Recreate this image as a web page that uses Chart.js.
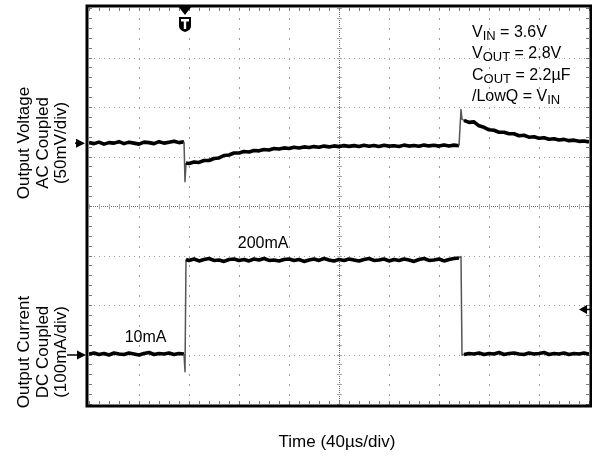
<!DOCTYPE html>
<html>
<head>
<meta charset="utf-8">
<script src="https://cdn.jsdelivr.net/npm/chart.js@4.4.1/dist/chart.umd.min.js"></script>
<style>
  html, body { margin: 0; padding: 0; background: #ffffff; }
  #wrap { width: 592px; height: 457px; position: relative; }
</style>
</head>
<body>
<div id="wrap"><canvas id="c" width="592" height="457"></canvas></div>
<script>
// ---------------- DATA ----------------
// sample times in microseconds (40 us/div, 10 divisions)
const timeUs = [
  0,4,8,12,16,20,24,28,32,36,40,44,48,52,56,60,64,68,72,76,
  76.8,77.6,
  80,84,88,92,96,100,104,108,112,116,120,124,128,132,136,140,144,148,152,156,
  160,164,168,172,176,180,184,188,192,196,200,204,208,212,216,220,224,228,232,236,
  240,244,248,252,256,260,264,268,272,276,280,284,288,292,296,
  297.6,298.4,
  300,304,308,312,316,320,324,328,332,336,340,344,348,352,356,360,364,368,372,376,
  380,384,388,392,396,400
];
// output voltage, AC coupled, in mV (50 mV/div)
const outputVoltageMv = [
  0.5,-0.5,1,-1,0.5,0,1.5,-0.5,1,0,-1,1,0.5,-0.5,1.5,0,1,2,0.5,1.5,
  -39,-20,
  -20.5,-19,-19.5,-17.5,-17.5,-15.5,-15,-12.5,-12,-10,
  -10,-8.5,-9,-7.5,-7.8,-6.5,-7,-5.5,-6,-4.8,
  -5.5,-4.2,-5,-3.8,-4.5,-3.5,-4.2,-3,-3.8,-2.8,
  -3.5,-2.5,-3.3,-2.5,-3.5,-2.2,-3.2,-2.4,-3.4,-2.2,
  -3,-2.6,-3.4,-2,-3,-2.4,-3.2,-2,-2.8,-2.2,
  -3,-1.8,-2.8,-2,-2.6,
  34,24,
  23,21,21.5,17.5,16,13.5,13,11,11,9.5,
  9.5,7.5,8,6,6.5,5,5.5,4,4.5,3.2,
  3.8,2.5,3,1.8,2.2,1.2
];
// output current, DC coupled, in mA (100 mA/div)
const outputCurrentMa = [
  10,12,9,11,8,12,10,9,12,10,8,11,13,9,11,10,12,9,11,10,
  -26,201,
  199,202,198,201,203,199,200,197,201,202,
  199,201,198,202,200,203,199,200,198,201,
  202,199,201,197,200,202,199,203,200,198,
  201,199,202,200,198,201,203,199,200,202,
  198,201,199,202,200,197,201,203,199,200,
  202,198,201,203,204,
  207,8,
  9,11,10,12,9,11,10,13,9,11,
  12,10,9,12,10,11,13,9,11,10,
  12,9,11,10,12,10
];
// graticule
const timeDivTicksUs = [0,40,80,120,160,200,240,280,320,360,400];
const verticalDivs = [-4,-3,-2,-1,0,1,2,3,4];
// scope channel settings
const voltScaleMvPerDiv = 50;
const currScaleMaPerDiv = 100;
const voltPositionDiv = 1.27;
const currPositionDiv = -3.09;
const voltMarkerMv = 0;
const currMarkerMa = 8;
const triggerTimeUs = 76.8;
const triggerLevelMa = 100;
// texts
const voltAxisLabel = ['Output Voltage', 'AC Coupled', '(50mV/div)'];
const currAxisLabel = ['Output Current', 'DC Coupled', '(100mA/div)'];
const timeAxisLabel = 'Time (40µs/div)';
const conditionLines = [
  [['V',0],['IN',1],[' = 3.6V',0]],
  [['V',0],['OUT',1],[' = 2.8V',0]],
  [['C',0],['OUT',1],[' = 2.2µF',0]],
  [['/LowQ = V',0],['IN',1]]
];
const levelLabels = [
  { text: '200mA', t: 119, ma: 225 },
  { text: '10mA',  t: 28.5, ma: 34 }
];

// ---------------- CHART ----------------
const FONT = '"Liberation Sans", Arial, Helvetica, sans-serif';
const voltPts = timeUs.map((t, i) => ({ x: t, y: voltPositionDiv + outputVoltageMv[i] / voltScaleMvPerDiv }));
const currPts = timeUs.map((t, i) => ({ x: t, y: currPositionDiv + outputCurrentMa[i] / currScaleMaPerDiv }));

const edgeSeg = {
  borderWidth: c => (c.p1.parsed.x - c.p0.parsed.x < 2 ? 1.5 : 3.6),
  borderColor: c => (c.p1.parsed.x - c.p0.parsed.x < 2 ? '#555' : '#000')
};

const scopePlugin = {
  id: 'scope',
  beforeDatasetsDraw(chart) {
    const { ctx, chartArea: a, scales: { x, y } } = chart;
    const X = v => Math.round(x.getPixelForValue(v));
    const Y = v => Math.round(y.getPixelForValue(v));
    const t0 = timeDivTicksUs[0], t1 = timeDivTicksUs[timeDivTicksUs.length - 1];
    const tc = (t0 + t1) / 2;
    const d0 = verticalDivs[0], d1 = verticalDivs[verticalDivs.length - 1];
    const minorT = (timeDivTicksUs[1] - timeDivTicksUs[0]) / 5;
    ctx.save();
    // major vertical lines
    ctx.fillStyle = '#9c9c9c';
    timeDivTicksUs.forEach(t => {
      if (t === t0 || t === t1 || t === tc) return;
      const px = X(t);
      for (let k = d0 * 5; k <= d1 * 5; k++) ctx.fillRect(px, Y(k / 5), 1, 2);
    });
    // major horizontal lines
    verticalDivs.forEach(d => {
      if (d === d0 || d === d1 || d === 0) return;
      const py = Y(d);
      for (let t = t0; t <= t1; t += minorT / 2) ctx.fillRect(X(t), py, 1, 1);
    });
    // centre lines (dense dots + minor ticks)
    const cy = Y(0), cx = X(tc);
    ctx.fillStyle = '#6a6a6a';
    for (let px = a.left; px < a.right; px += 2) ctx.fillRect(px, cy, 1, 1);
    for (let py = a.top; py < a.bottom; py += 2) ctx.fillRect(cx, py, 1, 1);
    ctx.fillStyle = '#a8a8a8';
    for (let t = t0; t <= t1; t += minorT) ctx.fillRect(X(t), cy - 2, 1, 5);
    for (let k = d0 * 5; k <= d1 * 5; k++) ctx.fillRect(cx - 2, Y(k / 5), 5, 1);
    // edge ticks
    ctx.fillStyle = '#777';
    for (let t = t0; t <= t1; t += minorT) {
      ctx.fillRect(X(t), a.top, 1, 3);
      ctx.fillRect(X(t), a.bottom - 3, 1, 3);
    }
    for (let k = d0 * 5; k <= d1 * 5; k++) {
      ctx.fillRect(a.left, Y(k / 5), 3, 1);
      ctx.fillRect(a.right - 3, Y(k / 5), 3, 1);
    }
    ctx.restore();
  },
  afterDatasetsDraw(chart) {
    const { ctx, chartArea: a, scales: { x, y } } = chart;
    ctx.save();
    // frame
    ctx.strokeStyle = '#000';
    ctx.lineWidth = 3;
    ctx.strokeRect(a.left - 2, a.top - 2, a.right - a.left + 4, a.bottom - a.top + 4);

    ctx.fillStyle = '#000';
    ctx.strokeStyle = '#000';
    // ground markers (left)
    const arrowR = (tipX, py, tail) => {
      ctx.lineWidth = 1.5;
      ctx.beginPath(); ctx.moveTo(tipX - tail, py); ctx.lineTo(tipX - 6, py); ctx.stroke();
      ctx.beginPath(); ctx.moveTo(tipX, py); ctx.lineTo(tipX - 9, py - 4.5); ctx.lineTo(tipX - 9, py + 4.5); ctx.closePath(); ctx.fill();
    };
    arrowR(a.left - 4, y.getPixelForValue(voltPositionDiv + voltMarkerMv / voltScaleMvPerDiv), 10);
    arrowR(a.left - 3, y.getPixelForValue(currPositionDiv + currMarkerMa / currScaleMaPerDiv), 19);
    // trigger level marker (right)
    const ty = y.getPixelForValue(currPositionDiv + triggerLevelMa / currScaleMaPerDiv);
    const tipX = a.right - 10;
    ctx.lineWidth = 1.5;
    ctx.beginPath(); ctx.moveTo(tipX + 5, ty); ctx.lineTo(a.right + 3, ty); ctx.stroke();
    ctx.beginPath(); ctx.moveTo(tipX, ty); ctx.lineTo(tipX + 8, ty - 4.5); ctx.lineTo(tipX + 8, ty + 4.5); ctx.closePath(); ctx.fill();
    // trigger time marker (top)
    const tx = x.getPixelForValue(triggerTimeUs);
    ctx.beginPath(); ctx.moveTo(tx - 7, a.top - 2); ctx.lineTo(tx + 7, a.top - 2); ctx.lineTo(tx, a.top + 7); ctx.closePath(); ctx.fill();
    ctx.beginPath();
    ctx.moveTo(tx - 6, a.top + 9);
    ctx.lineTo(tx + 6, a.top + 9);
    ctx.lineTo(tx + 6, a.top + 18);
    ctx.quadraticCurveTo(tx + 6, a.top + 22, tx, a.top + 24);
    ctx.quadraticCurveTo(tx - 6, a.top + 22, tx - 6, a.top + 18);
    ctx.closePath(); ctx.fill();
    ctx.fillStyle = '#fff';
    ctx.fillRect(tx - 4, a.top + 11, 8, 2.5);
    ctx.fillRect(tx - 1.2, a.top + 11, 2.4, 10);
    ctx.restore();
  },
  afterDraw(chart) {
    const { ctx, chartArea: a, scales: { x, y } } = chart;
    ctx.save();
    ctx.fillStyle = '#000';
    ctx.textBaseline = 'alphabetic';
    // rotated channel labels
    const vcol = [29, 47.5, 66];
    const vLabel = (lines, cy) => {
      lines.forEach((s, i) => {
        ctx.save();
        ctx.translate(vcol[i], cy);
        ctx.rotate(-Math.PI / 2);
        ctx.textAlign = 'center';
        ctx.font = '17px ' + FONT;
        ctx.fillText(s, 0, 0);
        ctx.restore();
      });
    };
    vLabel(voltAxisLabel, 143);
    vLabel(currAxisLabel, 352);
    // time label
    ctx.textAlign = 'center';
    ctx.font = '17px ' + FONT;
    ctx.fillText(timeAxisLabel, 337, 447);
    // conditions
    ctx.textAlign = 'left';
    conditionLines.forEach((runs, i) => {
      let px = 472;
      const base = 37 + i * 21.4;
      runs.forEach(([s, sub]) => {
        ctx.font = (sub ? '13px ' : '16px ') + FONT;
        ctx.fillText(s, px, base + (sub ? 3 : 0));
        px += ctx.measureText(s).width;
      });
    });
    // level labels
    ctx.font = '16px ' + FONT;
    levelLabels.forEach(l => {
      ctx.fillText(l.text, x.getPixelForValue(l.t), y.getPixelForValue(currPositionDiv + l.ma / currScaleMaPerDiv));
    });
    ctx.restore();
  }
};

new Chart(document.getElementById('c'), {
  type: 'line',
  data: {
    datasets: [
      { label: 'Output Voltage', data: voltPts, borderColor: '#000', borderWidth: 3.6, pointRadius: 0, tension: 0, segment: edgeSeg, borderJoinStyle: 'round' },
      { label: 'Output Current', data: currPts, borderColor: '#000', borderWidth: 3.6, pointRadius: 0, tension: 0, segment: edgeSeg, borderJoinStyle: 'round' }
    ]
  },
  options: {
    responsive: false,
    devicePixelRatio: 1,
    animation: false,
    layout: { padding: { left: 89, top: 8, right: 3, bottom: 53 } },
    scales: {
      x: { type: 'linear', min: timeDivTicksUs[0], max: timeDivTicksUs[timeDivTicksUs.length - 1], display: false },
      y: { type: 'linear', min: verticalDivs[0], max: verticalDivs[verticalDivs.length - 1], display: false }
    },
    plugins: { legend: { display: false }, tooltip: { enabled: false } }
  },
  plugins: [scopePlugin]
});
</script>
</body>
</html>
